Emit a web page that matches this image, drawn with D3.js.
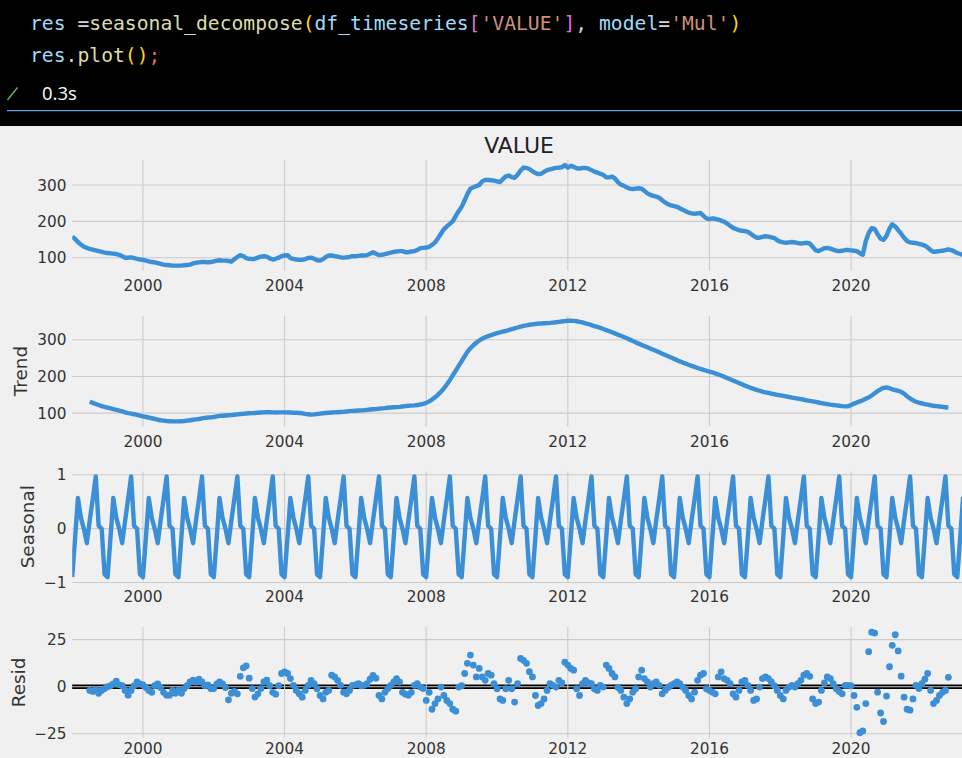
<!DOCTYPE html>
<html>
<head>
<meta charset="utf-8">
<script src="https://cdn.jsdelivr.net/npm/d3@7"></script>
<style>
  html, body { margin: 0; padding: 0; background: #f0f0f0; }
  svg { display: block; }
</style>
</head>
<body>
<svg id="fig" width="962" height="758"></svg>
<script>
// ---------------- data ----------------
// Monthly observations, first month below, one row per year.
const firstMonth = "1998-01";
const valueSeries = [
  158, 151, 143, 136, 130, 127, 124, 122, 120, 118, 116, 114,   // 1998
  113, 112, 111, 110, 108, 104, 100, 100, 101, 99, 97, 95,       // 1999
  94, 92, 90, 88, 87, 85, 83, 81, 80, 79, 78, 78,                // 2000
  78, 78, 79, 80, 81, 84, 86, 87, 88, 88, 87, 88,                // 2001
  90, 92, 93, 92, 92, 91, 89, 96, 102, 107, 104, 99,             // 2002
  97, 96, 97, 100, 103, 104, 103, 98, 95, 97, 100, 104,          // 2003
  106, 107, 99, 97, 95, 94, 94, 96, 99, 100, 97, 93,             // 2004
  92, 96, 102, 106, 106, 104, 103, 101, 100, 101, 102, 104,      // 2005
  104, 105, 106, 106, 107, 111, 115, 111, 107, 108, 110, 112,    // 2006
  114, 116, 117, 118, 118, 115, 115, 117, 118, 121, 126, 127,    // 2007
  128, 130, 135, 142, 153, 166, 178, 186, 193, 200, 215, 228,    // 2008
  240, 258, 275, 290, 294, 297, 300, 310, 314, 314, 313, 312,    // 2009
  310, 308, 316, 324, 326, 322, 320, 328, 340, 348, 347, 344,    // 2010
  338, 333, 330, 331, 336, 341, 343, 345, 347, 348, 349, 355,    // 2011
  348, 353, 350, 346, 345, 347, 347, 345, 341, 337, 334, 331,    // 2012
  328, 321, 321, 323, 318, 308, 301, 298, 293, 290, 289, 290,    // 2013
  291, 290, 284, 277, 273, 270, 268, 265, 258, 252, 247, 244,    // 2014
  242, 240, 236, 232, 228, 224, 222, 221, 222, 223, 215, 208,    // 2015
  206, 208, 207, 205, 202, 199, 194, 188, 182, 179, 176, 174,    // 2016
  173, 171, 166, 160, 155, 155, 157, 159, 158, 156, 154, 148,    // 2017
  144, 142, 141, 142, 143, 142, 140, 139, 140, 141, 139, 130,    // 2018
  120, 118, 122, 126, 127, 125, 122, 119, 118, 119, 121, 121,    // 2019
  120, 119, 118, 112, 108, 145, 168, 181, 179, 165, 152, 149,    // 2020
  160, 180, 192, 186, 176, 166, 155, 146, 142, 141, 140, 138,    // 2021
  136, 133, 128, 121, 116, 117, 118, 119, 121, 123, 121, 117,    // 2022
  113, 110, 108, 106                                             // 2023
];

// Centred 12-month trend (undefined for the first and last six months).
const trendStart = "1998-07";
const trendSeries = [
  131, 128, 125, 122, 119, 117,                                                  // 1998 H2
  115, 113, 111, 109, 107, 105, 102, 100, 98.5, 97, 95, 93,                      // 1999
  91, 89.5, 88, 86, 84, 82, 80.5, 79.5, 78.5, 78, 77.5, 77.5,                    // 2000
  77.5, 78, 78.5, 79.5, 80.5, 82, 83, 84, 85.5, 87, 88, 88.5,                    // 2001
  89.5, 91, 92.5, 93, 93.5, 94, 94.5, 95.5, 96.5, 97.5, 98, 99,                  // 2002
  99.5, 100, 100.5, 101, 101.5, 102, 102.5, 102.5, 102, 101.5, 102, 102,         // 2003
  102, 101.5, 101.5, 101, 101, 100.5, 99.5, 98, 97, 96, 96.5, 97.5,              // 2004
  98.5, 99.5, 100.5, 101, 101.5, 102, 102.5, 103, 103.5, 104.5, 105.5, 106,      // 2005
  106.5, 107, 107.5, 108, 109, 110, 110.5, 111, 112, 113, 113.5, 114.5,          // 2006
  115.5, 116, 116.5, 117, 118, 119, 120, 120.5, 121, 122, 123.5, 125.5,          // 2007
  128, 132, 137, 143, 150, 158, 167, 178, 190, 203, 216, 229,                    // 2008
  242, 255, 267, 277, 285, 292, 298, 303, 307, 310, 313, 315.5,                  // 2009
  318, 320, 322, 324, 326.5, 329, 331, 333.5, 336, 338, 339.5, 341,              // 2010
  342, 343, 344, 344.5, 345, 345.5, 346, 347, 348, 349, 350, 351,                // 2011
  352, 352, 351.5, 350.5, 349, 347.5, 345, 343, 340, 337.5, 335, 332.5,          // 2012
  329.5, 326.5, 323.5, 320.5, 317.5, 314, 311, 307.5, 304, 300.5, 297, 293,      // 2013
  289.5, 286, 283, 279.5, 276, 273, 269.5, 266, 262, 258.5, 255, 251.5,          // 2014
  248, 244.5, 241, 238, 235, 232, 229, 226, 223, 220.5, 218, 215.5,              // 2015
  213, 211, 208.5, 205.5, 202.5, 199.5, 196, 192.5, 189, 185.5, 182, 178.5,      // 2016
  175, 172, 169, 166, 163.5, 161, 158.5, 156.5, 155, 153, 151.5, 150,            // 2017
  148.5, 147, 145.5, 144, 142.5, 141, 139.5, 138, 136.5, 135, 133.5, 132,        // 2018
  130.5, 129, 127.5, 126, 124.5, 123, 122, 121, 120, 119, 118.5, 118.5,          // 2019
  122, 126, 129, 132, 135, 139, 143, 148, 154, 160, 165, 169,                    // 2020
  170, 168, 165, 163, 161, 158, 153, 146, 140, 135, 131, 128.5,                  // 2021
  126.5, 124.5, 123, 121.5, 120, 119, 118, 117, 116, 115                         // 2022 Jan-Oct
];

// Seasonal effect by calendar month, Jan .. Dec (repeats every year).
const monthNames = ["Jan", "Feb", "Mar", "Apr", "May", "Jun", "Jul", "Aug", "Sep", "Oct", "Nov", "Dec"];
const seasonalByMonth = [-0.90, -0.15, 0.57, 0.20, 0.00, -0.27, 0.15, 0.55, 0.97, 0.05, 0.00, -0.85];

// Residuals, same months as the trend.
const residSeries = [
  -2.0, -2.5, -1.5, -3.5, -2.0, -1.0,                                   // 1998 H2
  0.0, 0.5, 1.5, 3.0, 1.0, 0.5, -2.0, -4.5, -2.0, 0.5, 2.5, 1.5,        // 1999
  1.0, -0.5, -2.0, -3.0, 0.5, 1.5, -0.5, -3.0, -4.5, -4.5, -2.0, -3.5,  // 2000
  -2.0, -3.5, -1.0, 0.5, 2.5, 3.5, 2.5, 4.0, 2.5, 0.5, 1.0, -1.0,       // 2001
  -1.0, 1.5, 2.5, 1.5, -0.5, -7.0, -3.5, -2.5, -3.8, 5.5, 10.0, 11.0,   // 2002
  4.5, -1.0, -5.5, -3.8, -1.0, 2.5, 3.5, 0.5, -3.0, -4.0, 0.5, 7.0,     // 2003
  7.9, 7.0, 4.3, 0.7, -2.0, -3.8, -5.6, -2.0, 0.7, 3.4, 1.6, -1.1,      // 2004
  -4.7, -6.5, -3.0, -2.0, 6.1, 5.2, 3.4, 0.7, -2.9, -3.8, -2.0, 0.7,    // 2005
  1.0, 1.6, 0.5, 0.7, 1.6, 4.0, 6.0, 4.5, -4.7, -6.5, -3.0, -1.0,       // 2006
  0.7, 2.5, 4.3, 2.5, -3.0, -4.0, -4.5, -3.0, 0.7, 1.6, -0.2, -1.0,     // 2007
  -7.3, -3.0, -12.0, -9.0, -6.5, -0.2, -4.7, -7.3, -9.0, -12.0, -13.0, -0.2, // 2008
  0.5, 7.0, 12.4, 16.8, 11.5, 5.2, 9.7, 5.2, 3.4, 7.0, 6.1, 1.6,        // 2009
  -1.1, -6.5, -7.3, -1.1, 3.4, -1.1, -8.2, 1.6, 15.0, 14.0, 12.4, 8.0,  // 2010
  5.2, -4.7, -10.0, -9.0, -6.5, -2.0, 1.6, 0.7, -0.2, 3.4, 2.0, 13.0,   // 2011
  11.5, 9.7, 8.8, -1.1, -4.7, 1.6, 3.4, 2.0, 1.6, -1.1, -2.0, 0.7,      // 2012
  -0.2, 11.5, 9.7, 7.0, 5.2, -0.5, -2.0, -5.6, -9.0, -6.5, -2.9, -1.1,  // 2013
  5.2, 8.8, 4.3, 2.5, -0.2, 1.6, 2.5, 0.7, -3.8, -2.0, -0.5, 0.7,       // 2014
  1.6, 2.5, 1.6, -0.2, -2.0, -4.7, -6.5, -2.9, 3.4, 6.1, 7.0, -1.1,     // 2015
  -2.0, -2.9, -3.8, 5.2, 7.9, 4.3, 3.4, 1.6, -3.8, -5.6, -2.0, 2.5,     // 2016
  3.4, 0.7, -2.0, -7.3, -6.5, -0.2, 4.3, 5.2, 4.3, 2.5, 0.5, -2.0,      // 2017
  -4.7, -6.5, -2.0, -0.2, 0.7, -0.2, 1.6, 3.4, 6.1, 7.0, 5.5, -6.5,     // 2018
  -9.0, -8.2, -2.0, 2.0, 5.2, 4.3, 1.6, -1.1, -2.5, -3.8, 0.7, 0.7,     // 2019
  0.5, -4.7, -11.0, -24.5, -23.5, -9.0, 18.6, 29.0, 28.5, -2.9, -14.0, -18.5, // 2020
  -5.0, 10.6, 22.0, 27.6, 19.0, 5.6, -5.6, -12.0, -12.5, -6.5, 0.7, -1.0, // 2021
  1.6, 4.0, 7.0, -2.0, -9.0, -7.3, -4.7, -3.0, -2.0, 5.0                // 2022 Jan-Oct
];

const xTickYears = [2000, 2004, 2008, 2012, 2016, 2020];
const valueTicks = [100, 200, 300];
const trendTicks = [100, 200, 300];
const seasonalTicks = [-1, 0, 1];
const residTicks = [-25, 0, 25];
const chartTitle = "VALUE";
const panelLabels = ["", "Trend", "Seasonal", "Resid"];

// Notebook cell above the figure: tokens with their syntax class.
const codeLines = [
  [["res", "var"], [" =", "op"], ["seasonal_decompose", "fn"], ["(", "br1"], ["df_timeseries", "var"],
   ["[", "br2"], ["'VALUE'", "str"], ["]", "br2"], [", ", "op"], ["model", "var"], ["=", "op"],
   ["'Mul'", "str"], [")", "br1"]],
  [["res", "var"], [".", "op"], ["plot", "fn"], ["()", "br1"], [";", "semi"]]
];
const runTime = "0.3s";

// ---------------- drawing ----------------
const W = 962, H = 758;
const svg = d3.select("#fig");

const tokenColor = {
  var: "#9cdcfe", op: "#d4d4d4", fn: "#dcdcaa", br1: "#ffd700",
  br2: "#da70d6", str: "#ce9178", semi: "#e8695f"
};

// cell header
svg.append("rect").attr("x", 0).attr("y", 0).attr("width", W).attr("height", 126).attr("fill", "#000");
codeLines.forEach((line, i) => {
  const t = svg.append("text")
    .attr("x", 30).attr("y", 29.5 + i * 32)
    .attr("font-family", "'DejaVu Sans Mono', monospace")
    .attr("font-size", 19.7)
    .style("white-space", "pre");
  line.forEach(([s, k]) => t.append("tspan").attr("fill", tokenColor[k]).text(s));
});
// check mark + run time
svg.append("path").attr("d", "M7.5,100 L17.5,87.5")
  .attr("stroke", "#6fb46f").attr("stroke-width", 1.3).attr("fill", "none");
svg.append("text").attr("x", 42).attr("y", 100)
  .attr("font-family", "'Noto Sans', 'Open Sans', sans-serif")
  .attr("font-size", 18.5).attr("fill", "#f2f2f2").text(runTime);
svg.append("line").attr("x1", 7).attr("x2", W).attr("y1", 110.7).attr("y2", 110.7)
  .attr("stroke", "#5aa5d6").attr("stroke-width", 1.2);

// figure background
svg.append("rect").attr("x", 0).attr("y", 126).attr("width", W).attr("height", H - 126).attr("fill", "#f0f0f0");

// shared time axis
const parseMonth = d3.utcParse("%Y-%m");
const valueDates = valueSeries.map((_, i) => d3.utcMonth.offset(parseMonth(firstMonth), i));
const trendDates = trendSeries.map((_, i) => d3.utcMonth.offset(parseMonth(trendStart), i));
const seasonalSeries = valueDates.map(d => seasonalByMonth[d.getUTCMonth()]);

const axLeft = 72.2, axRight = 966;
const x = d3.scaleUtc()
  .domain([valueDates[0], valueDates[valueDates.length - 1]])
  .range([axLeft, axRight]);
const xTicks = xTickYears.map(y => new Date(Date.UTC(y, 0, 1)));

const panelTop0 = 160, panelPitch = 155.7, panelH = 110.7;
const lineColor = "#3b8fd6";
const gridColor = "#cbcbcb";
const tickFont = 15.3;
const fmt = v => (v < 0 ? "\u2212" + Math.abs(v) : String(v));

function autoDomain(vals) {
  const [lo, hi] = d3.extent(vals);
  const pad = (hi - lo) * 0.05;
  return [lo - pad, hi + pad];
}

const clip = svg.append("defs");

const panels = [
  { dates: valueDates, vals: valueSeries, ticks: valueTicks, kind: "line" },
  { dates: trendDates, vals: trendSeries, ticks: trendTicks, kind: "line" },
  { dates: valueDates, vals: seasonalSeries, ticks: seasonalTicks, kind: "line" },
  { dates: trendDates, vals: residSeries, ticks: residTicks, kind: "dots" }
];

panels.forEach((p, i) => {
  const top = panelTop0 + i * panelPitch, bottom = top + panelH;
  const y = d3.scaleLinear().domain(autoDomain(p.vals)).range([bottom, top]);
  const g = svg.append("g");

  clip.append("clipPath").attr("id", "clip" + i)
    .append("rect").attr("x", axLeft).attr("y", top).attr("width", axRight - axLeft).attr("height", panelH);

  // zero reference line for the residuals sits beneath the grid
  if (p.kind === "dots") {
    g.append("line").attr("x1", axLeft).attr("x2", axRight)
      .attr("y1", y(0)).attr("y2", y(0))
      .attr("stroke", "#000").attr("stroke-width", 4.4);
  }

  // grid
  g.append("g").selectAll("line").data(p.ticks).join("line")
    .attr("x1", axLeft).attr("x2", axRight)
    .attr("y1", d => y(d)).attr("y2", d => y(d))
    .attr("stroke", gridColor).attr("stroke-width", 1.1);
  g.append("g").selectAll("line").data(xTicks).join("line")
    .attr("x1", d => x(d)).attr("x2", d => x(d))
    .attr("y1", top).attr("y2", bottom)
    .attr("stroke", gridColor).attr("stroke-width", 1.1);

  // y tick labels
  g.append("g").selectAll("text").data(p.ticks).join("text")
    .attr("x", 66.5).attr("y", d => y(d) + tickFont * 0.36)
    .attr("text-anchor", "end")
    .attr("font-family", "'DejaVu Sans', sans-serif").attr("font-size", tickFont)
    .attr("fill", "#333").text(fmt);

  // x tick labels (kept inside the page for the lowest panel)
  g.append("g").selectAll("text").data(xTicks).join("text")
    .attr("x", d => x(d)).attr("y", Math.min(bottom + 20.3, H - 4.2))
    .attr("text-anchor", "middle")
    .attr("font-family", "'DejaVu Sans', sans-serif").attr("font-size", tickFont)
    .attr("fill", "#333").text(d => d.getUTCFullYear());

  // marks
  const pts = p.vals.map((v, k) => [p.dates[k], v]);
  if (p.kind === "line") {
    g.append("path").datum(pts)
      .attr("clip-path", `url(#clip${i})`)
      .attr("d", d3.line().x(d => x(d[0])).y(d => y(d[1])))
      .attr("fill", "none").attr("stroke", lineColor)
      .attr("stroke-width", 4.4).attr("stroke-linejoin", "round").attr("stroke-linecap", "butt");
  } else {
    g.append("g").selectAll("circle").data(pts).join("circle")
      .attr("cx", d => x(d[0])).attr("cy", d => y(d[1])).attr("r", 3.4)
      .attr("fill", lineColor);
  }

  // axis label
  if (panelLabels[i]) {
    const lx = [0, 27, 33.5, 24.5][i];
    g.append("text")
      .attr("transform", `translate(${lx},${(top + bottom) / 2}) rotate(-90)`)
      .attr("text-anchor", "middle")
      .attr("font-family", "'DejaVu Sans', sans-serif").attr("font-size", 18.4)
      .attr("fill", "#333").text(panelLabels[i]);
  }
  if (i === 0) {
    g.append("text").attr("x", (axLeft + axRight) / 2).attr("y", 153.3)
      .attr("text-anchor", "middle")
      .attr("font-family", "'DejaVu Sans', sans-serif").attr("font-size", 22)
      .attr("fill", "#222").text(chartTitle);
  }
});
</script>
</body>
</html>
